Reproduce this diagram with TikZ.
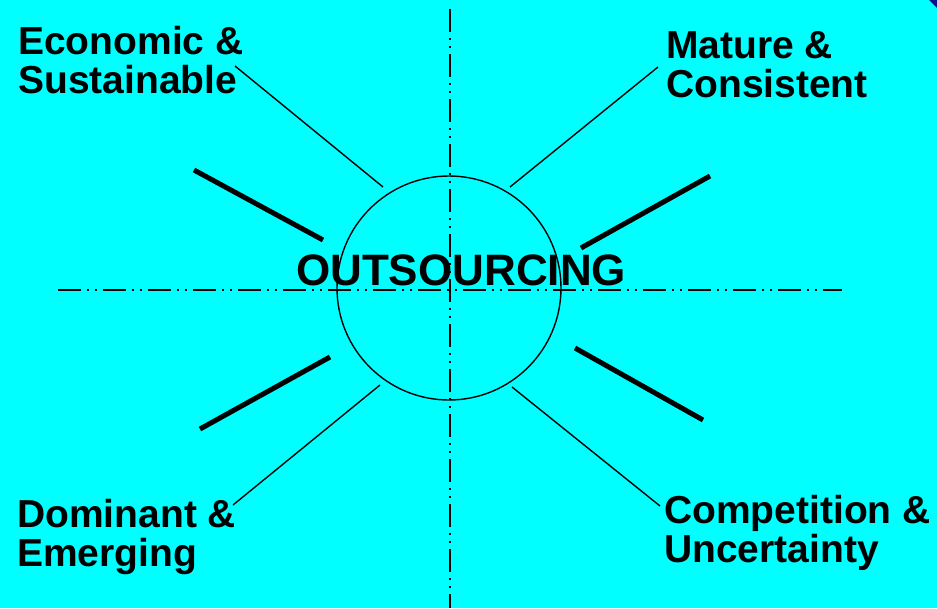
\documentclass[tikz,border=0pt]{standalone}
\usepackage{fontspec}
\setmainfont{Liberation Sans}
\definecolor{slidebg}{RGB}{0,255,255}
\definecolor{slideedge}{RGB}{10,20,140}

\begin{document}
\begin{tikzpicture}[
  x=1pt, y=-1pt,
  label/.style={font=\fontsize{39}{39}\selectfont\bfseries, align=left, inner sep=0pt, anchor=base west},
  title/.style={font=\fontsize{44}{44}\selectfont\bfseries, inner sep=0pt, anchor=base},
  axis/.style={line width=2pt, dash pattern=on 23pt off 6pt on 2pt off 6pt on 2pt off 6pt},
  thin/.style={line width=1.4pt},
  ray/.style={line width=5pt}
]
% slide background
\fill[slidebg] (0,0) rectangle (937,608);
\fill[slideedge] (929,0) -- (937,0) -- (937,8) -- cycle;
\useasboundingbox (0,0) rectangle (937,608);

% axes and circle
\coordinate (top) at (450,9);
\coordinate (bottom) at (450,608);
\coordinate (left) at (58,290);
\coordinate (right) at (842,290);
\draw[axis] (top) -- (bottom);
\draw[axis] (left) -- (right);
\draw[thin] (449,288) circle[radius=112];

\node[title] (out) at (461,285) {OUTSOURCING};

% labels (anchored at the baseline of the last line)
\node[label] (econ) at (18,93) {Economic \&\\Sustainable};
\node[label] (mature) at (666,97) {Mature \&\\Consistent};
\node[label] (dom) at (17,566) {Dominant \&\\Emerging};
\node[label] (comp) at (664,562) {Competition \&\\Uncertainty};

% thin leaders
\coordinate (econ end) at (235,66);
\coordinate (econ in) at (383,187);
\coordinate (mature end) at (658,67);
\coordinate (mature in) at (510,187);
\coordinate (dom end) at (233,505);
\coordinate (dom in) at (380,385);
\coordinate (comp end) at (660,506);
\coordinate (comp in) at (512,387);
\draw[thin] (econ end) -- (econ in);
\draw[thin] (mature end) -- (mature in);
\draw[thin] (dom end) -- (dom in);
\draw[thin] (comp end) -- (comp in);

% thick rays
\coordinate (ray a1) at (194,170);
\coordinate (ray a2) at (323,240);
\coordinate (ray b1) at (710,176);
\coordinate (ray b2) at (581,248);
\coordinate (ray c1) at (330,357);
\coordinate (ray c2) at (200,429);
\coordinate (ray d1) at (575,348);
\coordinate (ray d2) at (703,420);
\draw[ray] (ray a1) -- (ray a2);
\draw[ray] (ray b1) -- (ray b2);
\draw[ray] (ray c1) -- (ray c2);
\draw[ray] (ray d1) -- (ray d2);
\end{tikzpicture}
\end{document}
